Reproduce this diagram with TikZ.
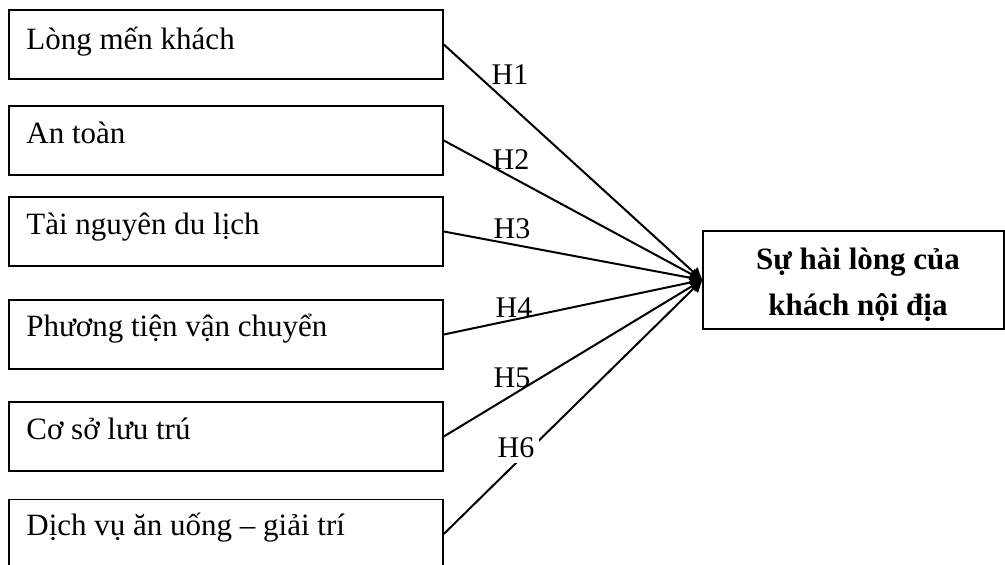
\documentclass[tikz,border=0pt]{standalone}
\usepackage{fontspec}
\setmainfont{Liberation Serif}
\usetikzlibrary{arrows.meta}

\tikzset{
  factor/.style={draw, line width=1.6pt, rectangle, minimum width=434pt,
    minimum height=69pt, inner sep=0pt},
  outcome/.style={draw, line width=1.6pt, rectangle, minimum width=301pt,
    minimum height=98pt, inner sep=0pt},
  ftext/.style={anchor=base west, inner sep=0pt, font=\fontsize{31}{37}\selectfont},
  otext/.style={anchor=base, inner sep=0pt, align=center,
    font=\bfseries\fontsize{31}{46}\selectfont},
  hyp/.style={inner sep=0pt, font=\fontsize{30}{35}\selectfont},
  conn/.style={line width=2pt, -{Triangle[length=12pt,width=12pt]}}
}

\begin{document}
\begin{tikzpicture}[x=1pt, y=-1pt]
  \useasboundingbox (0,0) rectangle (1005,565);

  % factor boxes
  \node[factor] (b1) at (226,44.5) {};
  \node[factor] (b2) at (226,140.5) {};
  \node[factor] (b3) at (226,231.5) {};
  \node[factor] (b4) at (226,334.5) {};
  \node[factor] (b5) at (226,436.5) {};
  \node[factor] (b6) at (226,534) {};

  \node[ftext] (t1) at ([shift={(18,40)}]b1.north west) {Lòng mến khách};
  \node[ftext] (t2) at ([shift={(18,38)}]b2.north west) {An toàn};
  \node[ftext] (t3) at ([shift={(18,38)}]b3.north west) {Tài nguyên du lịch};
  \node[ftext] (t4) at ([shift={(18,37)}]b4.north west) {Phương tiện vận chuyển};
  \node[ftext] (t5) at ([shift={(18,38)}]b5.north west) {Cơ sở lưu trú};
  \node[ftext] (t6) at ([shift={(18,37)}]b6.north west) {Dịch vụ ăn uống – giải trí};

  % dependent variable
  \node[outcome] (sat) at (853.5,280) {};
  \node[otext] (st) at (858,315) {Sự hài lòng của\\khách nội địa};

  % hypothesised paths
  \draw[conn] (b1.east) -- (sat.west);
  \draw[conn] (b2.east) -- (sat.west);
  \draw[conn] (b3.east) -- (sat.west);
  \draw[conn] (b4.east) -- (sat.west);
  \draw[conn] (b5.east) -- (sat.west);
  \draw[conn] (b6.east) -- (sat.west);

  \node[hyp] (h1) at (510,75) {H1};
  \node[hyp] (h2) at (511,160) {H2};
  \node[hyp] (h3) at (512,229) {H3};
  \node[hyp] (h4) at (514,308) {H4};
  \node[hyp] (h5) at (512,378) {H5};
  \node[hyp, fill=white, inner sep=5pt] (h6) at (516,448) {H6};
\end{tikzpicture}
\end{document}
